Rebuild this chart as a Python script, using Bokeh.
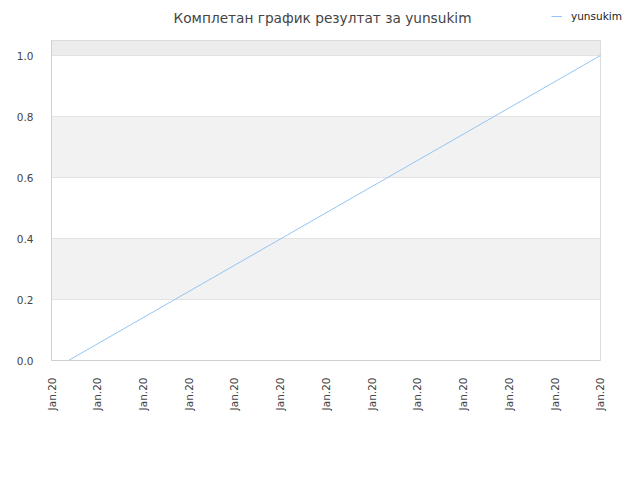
from bokeh.plotting import figure
from bokeh.models import (Range1d, FixedTicker, BoxAnnotation, Legend, LegendItem,
                          Label, NumeralTickFormatter)
from bokeh.embed import file_html
from bokeh.resources import INLINE

title_text = "Комплетан график резултат за yunsukim"
series_name = "yunsukim"
x_ticks = list(range(13))
x_labels = ["Jan.20"] * 13
y_ticks = [0.0, 0.2, 0.4, 0.6, 0.8, 1.0]
x_values = [0.37, 12.0]
y_values = [0.0, 1.0]

LINE_COLOR = "#92c5f5"

X_MAX = 12.0          # end of plotted area
Y_TOP = 1.04918       # top of plotted area
# the frame is extended to leave room for title and legend inside it
p = figure(width=624, height=464, output_backend="svg", toolbar_location=None,
           x_range=Range1d(0, 12.5246), y_range=Range1d(0, 1.18033),
           min_border_left=51, min_border_right=0, min_border_top=0,
           min_border_bottom=104)
p.outline_line_color = None
p.background_fill_color = "white"
p.border_fill_color = "white"
p.xgrid.visible = False
p.ygrid.visible = False

# alternating horizontal bands with grid lines on their edges
edges = y_ticks + [Y_TOP]
fills = ["white", "#f2f2f2", "white", "#f2f2f2", "white", "#ececec"]
for i in range(len(edges) - 1):
    p.add_layout(BoxAnnotation(left=0, right=X_MAX, bottom=edges[i], top=edges[i + 1],
                               fill_color=fills[i], fill_alpha=1,
                               line_color="#e3e3e3", line_alpha=1, line_width=1,
                               level="underlay"))
# plot-area border
p.add_layout(BoxAnnotation(left=0, right=X_MAX, bottom=0, top=Y_TOP,
                           fill_alpha=0, line_color="#dcdcdc", line_alpha=1,
                           line_width=1, level="underlay"))

r = p.line(x_values, y_values, line_color=LINE_COLOR, line_width=1)

p.xaxis.ticker = FixedTicker(ticks=x_ticks)
p.xaxis.major_label_overrides = {t: l for t, l in zip(x_ticks, x_labels)}
p.xaxis.major_label_orientation = 1.5708
p.xaxis.bounds = (0, X_MAX)
p.yaxis.ticker = FixedTicker(ticks=y_ticks)
p.yaxis.formatter = NumeralTickFormatter(format="0.0")
p.yaxis.bounds = (0, Y_TOP)
for ax in (p.xaxis[0], p.yaxis[0]):
    ax.axis_line_color = "#d0d0d0"
    ax.major_tick_line_color = None
    ax.minor_tick_line_color = None
    ax.major_label_text_font = "DejaVu Sans"
    ax.major_label_text_font_size = "10.5px"
    ax.major_label_text_color = "#444444"
p.xaxis.major_label_standoff = 11
p.yaxis.major_label_standoff = 12

p.add_layout(Label(x=271, y=342.7, x_units="screen", y_units="screen",
                   text=title_text, text_align="center",
                   text_baseline="alphabetic", text_font="DejaVu Sans",
                   text_font_size="13.7px", text_color="#444444"))

legend = Legend(items=[LegendItem(label=series_name, renderers=[r])],
                location=(500, 338.5), padding=0, margin=0, spacing=0,
                border_line_color=None, background_fill_alpha=0,
                glyph_width=11, glyph_height=10, label_height=10,
                label_standoff=9, label_text_font="DejaVu Sans",
                label_text_font_size="10.5px", label_text_color="#222222")
p.add_layout(legend, "center")

open("out.html", "w").write(file_html(p, INLINE))
